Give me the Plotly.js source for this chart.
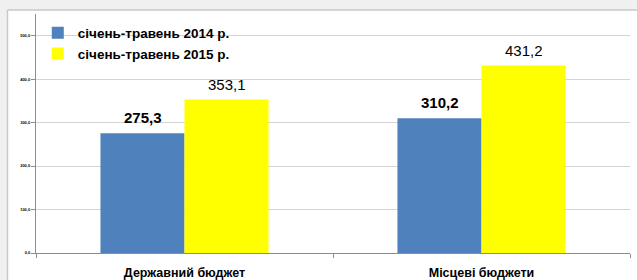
<!DOCTYPE html>
<html>
<head>
<meta charset="utf-8">
<script src="https://cdn.plot.ly/plotly-3.0.1.min.js"></script>
<style>html,body{margin:0;padding:0;background:#ffffff;}#chart{width:637px;height:280px;}</style>
</head>
<body>
<div id="chart"></div>
<script>
const categories = ["Державний бюджет", "Місцеві бюджети"];
const seriesNames = ["січень-травень 2014 р.", "січень-травень 2015 р."];
const values2014 = [275.3, 310.2];
const values2015 = [353.1, 431.2];
const yTickVals = [0, 100, 200, 300, 400, 500];
const yTickText = ["0,0", "100,0", "200,0", "300,0", "400,0", "500,0"];

const fmt = v => v.toFixed(1).replace('.', ',');

const traces = [
  {type: 'bar', name: seriesNames[0], x: categories, y: values2014,
   marker: {color: '#4f81bd'}, hoverinfo: 'none'},
  {type: 'bar', name: seriesNames[1], x: categories, y: values2015,
   marker: {color: '#ffff00'}, hoverinfo: 'none'}
];

const annotations = [];
categories.forEach((c, i) => {
  annotations.push({x: c, y: values2014[i], xref: 'x', yref: 'y', text: fmt(values2014[i]),
    showarrow: false, yanchor: 'bottom', xshift: -42, yshift: 5,
    font: {family: 'Liberation Sans, Arial, sans-serif', size: 15, color: '#000', weight: 'bold'}});
  annotations.push({x: c, y: values2015[i], xref: 'x', yref: 'y', text: fmt(values2015[i]),
    showarrow: false, yanchor: 'bottom', xshift: 42, yshift: 5,
    font: {family: 'Liberation Sans, Arial, sans-serif', size: 15, color: '#000'}});
});

const layout = {
  width: 637, height: 280,
  margin: {l: 35.5, r: 6.5, t: 14, b: 26.7, pad: 0},
  paper_bgcolor: '#ffffff',
  plot_bgcolor: 'rgba(0,0,0,0)',
  barmode: 'group',
  bargap: 0.434,
  bargroupgap: 0,
  showlegend: true,
  legend: {x: 0.003, y: 0.985, xanchor: 'left', yanchor: 'top', bgcolor: 'rgba(0,0,0,0)',
    font: {family: 'Liberation Sans, Arial, sans-serif', size: 13.5, color: '#000', weight: 'bold'},
    tracegroupgap: 0, itemwidth: 30},
  xaxis: {
    type: 'category', showgrid: false, showline: true, linecolor: '#8c8c8c', linewidth: 1,
    ticks: 'outside', tickson: 'boundaries', ticklen: 4, tickcolor: '#8c8c8c',
    ticklabelstandoff: 8, automargin: false,
    tickfont: {family: 'Liberation Sans Narrow, Liberation Sans, Arial, sans-serif', size: 12.5, color: '#000', weight: 'bold'},
    fixedrange: true
  },
  yaxis: {
    range: [0, 550], tickvals: yTickVals, ticktext: yTickText,
    showgrid: true, gridcolor: '#d4d4d4', gridwidth: 1,
    showline: true, linecolor: '#8c8c8c', linewidth: 1, zeroline: false,
    ticks: 'outside', ticklen: 4, tickcolor: '#8c8c8c', automargin: false,
    tickfont: {family: 'Liberation Sans, Arial, sans-serif', size: 4, color: '#000', weight: 'bold'},
    fixedrange: true
  },
  shapes: [
    {type: 'rect', xref: 'paper', yref: 'paper', x0: -0.07, x1: -0.048, y0: -0.2, y1: 1.1,
     fillcolor: '#f0f0f0', line: {width: 0}, layer: 'below'},
    {type: 'rect', xref: 'paper', yref: 'paper', x0: -0.07, x1: 1.03, y0: 1.0167, y1: 1.1,
     fillcolor: '#f0f0f0', line: {width: 0}, layer: 'below'},
    {type: 'line', xref: 'paper', yref: 'paper', x0: -0.048, x1: 1.03, y0: 1.0167, y1: 1.0167,
     line: {color: '#c8c8c8', width: 1.5}, layer: 'below'},
    {type: 'line', xref: 'paper', yref: 'paper', x0: -0.048, x1: -0.048, y0: -0.2, y1: 1.0167,
     line: {color: '#c8c8c8', width: 1.5}, layer: 'below'}
  ],
  annotations: annotations
};

Plotly.newPlot('chart', traces, layout, {displayModeBar: false, staticPlot: true});
</script>
</body>
</html>
